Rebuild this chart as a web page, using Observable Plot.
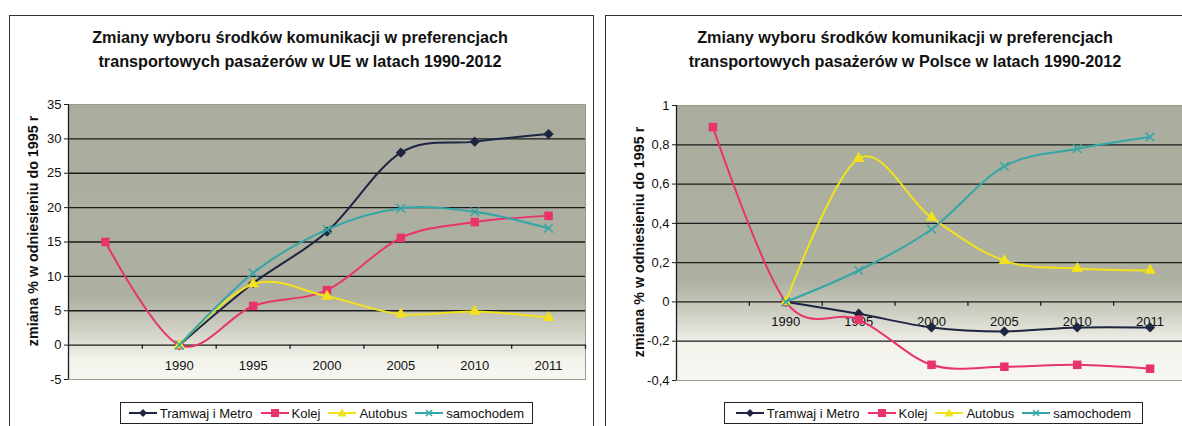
<!DOCTYPE html>
<html>
<head>
<meta charset="utf-8">
<script src="https://cdn.jsdelivr.net/npm/d3@7"></script>
<script src="https://cdn.jsdelivr.net/npm/@observablehq/plot@0.6"></script>
<style>
  html, body { margin: 0; padding: 0; }
  body { width: 1182px; height: 426px; overflow: hidden; position: relative; background: #fff;
         font-family: "Liberation Sans", Arial, sans-serif; color: #111; }
  .panel { position: absolute; top: 15px; height: 440px; border: 1.5px solid #333; box-sizing: border-box; }
  .title { position: absolute; top: 25px; width: 600px; text-align: center; font-weight: bold;
           font-size: 16.2px; line-height: 24px; }
  .ylab { position: absolute; width: 300px; height: 20px; line-height: 20px; text-align: center;
          font-weight: bold; font-size: 14.3px; transform: rotate(-90deg); white-space: nowrap; }
  .chart { position: absolute; top: 90px; width: 600px; height: 300px; }
  .chart svg { max-width: none !important; display: block; }
  .legend { position: absolute; top: 402px; height: 22px; border: 1px solid #222; background: #fff;
            box-sizing: border-box; display: flex; align-items: center; justify-content: center;
            font-size: 13px; white-space: nowrap; }
  .legend .item { display: flex; align-items: center; margin: 0 4px; }
  .legend svg { margin-right: 3px; }
</style>
</head>
<body>
<div class="panel" style="left:9px; width:585px;"></div>
<div class="panel" style="left:605px; width:600px;"></div>

<div class="title" style="left:0px;">Zmiany wyboru środków komunikacji w preferencjach<br>transportowych pasażerów w UE w latach 1990-2012</div>
<div class="title" style="left:605px;">Zmiany wyboru środków komunikacji w preferencjach<br>transportowych pasażerów w Polsce w latach 1990-2012</div>

<div class="ylab" style="left:-117px; top:221px;">zmiana % w odniesieniu do 1995 r</div>
<div class="ylab" style="left:489px; top:232px;">zmiana % w odniesieniu do 1995 r</div>

<div id="ue" class="chart" style="left:0px;"></div>
<div id="pl" class="chart" style="left:600px;"></div>

<div id="legUE" class="legend" style="left:120px; width:413px;"></div>
<div id="legPL" class="legend" style="left:724px; width:419px;"></div>

<script>
// ---- data ----
const categories = ["", "1990", "1995", "2000", "2005", "2010", "2011"];
const seriesNames = ["Tramwaj i Metro", "Kolej", "Autobus", "samochodem"];
const seriesColors = ["#1d2542", "#e8336b", "#f2e21c", "#35a6a8"];
const seriesSymbols = ["diamond2", "square", "triangle", "times"];

// UE
const ueTramwaj    = [null, 0, 9.0, 16.5, 28.0, 29.6, 30.7];
const ueKolej      = [15,   0, 5.7,  8.0, 15.6, 17.9, 18.8];
const ueAutobus    = [null, 0, 8.9,  7.1,  4.5,  4.9,  4.0];
const ueSamochodem = [null, 0, 10.5, 16.8, 19.9, 19.4, 17.0];
const ueYTicks = [-5, 0, 5, 10, 15, 20, 25, 30, 35];

// Polska
const plTramwaj    = [null, 0, -0.06, -0.13, -0.15, -0.13, -0.13];
const plKolej      = [0.89, 0, -0.09, -0.32, -0.33, -0.32, -0.34];
const plAutobus    = [null, 0, 0.73, 0.43, 0.21, 0.17, 0.16];
const plSamochodem = [null, 0, 0.16, 0.37, 0.69, 0.78, 0.84];
const plYTicks = [-0.4, -0.2, 0, 0.2, 0.4, 0.6, 0.8, 1];

function rowsOf(arrays) {
  const rows = [];
  arrays.forEach((arr, s) => arr.forEach((v, i) => {
    if (v !== null) rows.push({series: seriesNames[s], i, v});
  }));
  return rows;
}

function makeChart(cfg) {
  const rows = rowsOf(cfg.arrays);
  const yMin = cfg.yTicks[0], yMax = cfg.yTicks[cfg.yTicks.length - 1];
  const inner = cfg.yTicks.filter(t => t !== yMin && t !== yMax);
  const boundaries = d3.range(categories.length).map(i => i + 0.5);
  const labelIdx = categories.map((c, i) => i).filter(i => categories[i] !== "");
  const marks = [
    Plot.frame({fill: `url(#${cfg.id}-bg)`, stroke: "#9a9a8c", strokeWidth: 1}),
    Plot.ruleY(inner, {stroke: "#1b1b1b", strokeWidth: 1.3}),
    Plot.ruleX([-0.5], {stroke: "#1b1b1b", strokeWidth: 1.3}),
    Plot.axisY({ticks: cfg.yTicks, tickSize: 4, tickPadding: 3, fontSize: 13,
                tickFormat: cfg.fmt, label: null, stroke: "#1b1b1b"}),
    Plot.ruleX(boundaries, {y1: 0, y2: cfg.tickLen, stroke: "#1b1b1b", strokeWidth: 1.3}),
    Plot.text(labelIdx, {x: d => d, y: 0, dy: cfg.labelDy, text: d => categories[d],
                         fontSize: 13, fill: "#111"})
  ];
  seriesNames.forEach((name, s) => {
    const data = rows.filter(r => r.series === name);
    marks.push(Plot.line(data, {x: "i", y: "v", stroke: seriesColors[s], strokeWidth: 2,
                                curve: "cardinal", tension: 0}));
    if (seriesSymbols[s] === "times") {
      marks.push(Plot.dot(data, {x: "i", y: "v", symbol: "times", r: 4, stroke: seriesColors[s],
                                 strokeWidth: 1.5, fill: "none"}));
    } else {
      marks.push(Plot.dot(data, {x: "i", y: "v", symbol: seriesSymbols[s], r: cfg.r[s],
                                 fill: seriesColors[s], stroke: "none"}));
    }
  });
  const svg = Plot.plot({
    width: 600, height: 300,
    marginLeft: cfg.marginLeft, marginRight: cfg.marginRight,
    marginTop: cfg.marginTop, marginBottom: cfg.marginBottom,
    style: {fontFamily: "'Liberation Sans', Arial, sans-serif", background: "transparent", color: "#111", maxWidth: "none"},
    x: {domain: [-0.5, categories.length - 0.5], axis: null},
    y: {domain: [yMin, yMax], axis: null},
    marks
  });
  const ns = "http://www.w3.org/2000/svg";
  const defs = document.createElementNS(ns, "defs");
  const g = document.createElementNS(ns, "linearGradient");
  g.setAttribute("id", `${cfg.id}-bg`);
  g.setAttribute("x1", "0"); g.setAttribute("y1", "0");
  g.setAttribute("x2", "0"); g.setAttribute("y2", "1");
  cfg.stops.forEach(([o, c]) => {
    const st = document.createElementNS(ns, "stop");
    st.setAttribute("offset", o); st.setAttribute("stop-color", c);
    g.appendChild(st);
  });
  defs.appendChild(g);
  svg.insertBefore(defs, svg.firstChild);
  document.getElementById(cfg.id).appendChild(svg);
}

makeChart({
  id: "ue", arrays: [ueTramwaj, ueKolej, ueAutobus, ueSamochodem],
  yTicks: ueYTicks, fmt: d => String(d), tickLen: -0.6, labelDy: 21,
  marginLeft: 68, marginRight: 15, marginTop: 14, marginBottom: 11,
  r: [4.6, 4.8, 4.3],
  stops: [[0, "#aaad9e"], [0.70, "#aeb0a1"], [0.82, "#d0d1c5"], [0.93, "#f3f3ec"], [1, "#f7f7f2"]]
});
makeChart({
  id: "pl", arrays: [plTramwaj, plKolej, plAutobus, plSamochodem],
  yTicks: plYTicks, fmt: d => String(Math.round(d * 10) / 10).replace(".", ","),
  tickLen: -0.022, labelDy: 20,
  marginLeft: 76, marginRight: 14, marginTop: 15, marginBottom: 10,
  r: [4.6, 4.8, 4.3],
  stops: [[0, "#aaad9e"], [0.64, "#aeb0a1"], [0.76, "#d0d1c5"], [0.87, "#f3f3ec"], [1, "#f7f7f2"]]
});

// ---- legends ----
function swatch(s) {
  const ns = "http://www.w3.org/2000/svg";
  const svg = document.createElementNS(ns, "svg");
  svg.setAttribute("width", 28); svg.setAttribute("height", 12);
  const c = seriesColors[s];
  let shape = "";
  if (seriesSymbols[s] === "diamond2") shape = `<path d="M14,2L18,6L14,10L10,6Z" fill="${c}"/>`;
  else if (seriesSymbols[s] === "square") shape = `<rect x="10" y="2" width="8" height="8" fill="${c}"/>`;
  else if (seriesSymbols[s] === "triangle") shape = `<path d="M14,1.5L18.5,9.5L9.5,9.5Z" fill="${c}"/>`;
  else shape = `<path d="M11,3L17,9M17,3L11,9" stroke="${c}" stroke-width="1.5"/>`;
  svg.innerHTML = `<line x1="0" y1="6" x2="28" y2="6" stroke="${c}" stroke-width="2"/>` + shape;
  return svg;
}
["legUE", "legPL"].forEach(id => {
  const el = document.getElementById(id);
  seriesNames.forEach((name, s) => {
    const item = document.createElement("div");
    item.className = "item";
    item.appendChild(swatch(s));
    const t = document.createElement("span");
    t.textContent = name;
    item.appendChild(t);
    el.appendChild(item);
  });
});
</script>
</body>
</html>
